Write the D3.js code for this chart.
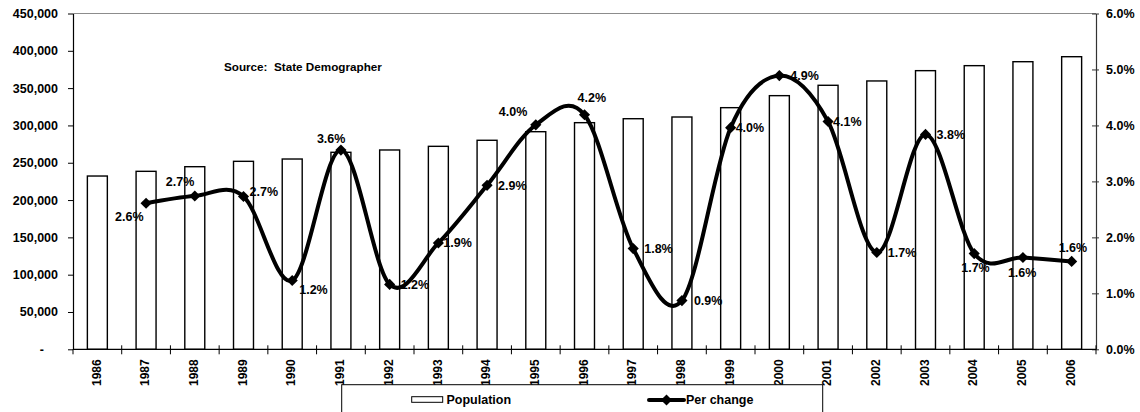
<!DOCTYPE html>
<html>
<head>
<meta charset="utf-8">
<script src="https://cdn.jsdelivr.net/npm/d3@7"></script>
<style>
  html, body { margin: 0; padding: 0; background: #fff; }
  svg { display: block; font-family: "Liberation Sans", Arial, sans-serif; font-weight: bold; }
</style>
</head>
<body>
<svg id="chart" width="1140" height="412"></svg>
<script>
// Population by year (bars, left axis)
const years = ["1986","1987","1988","1989","1990","1991","1992","1993","1994","1995","1996",
               "1997","1998","1999","2000","2001","2002","2003","2004","2005","2006"];
const population = [232200, 238500, 244700, 251900, 255000, 264000, 267100, 272000, 280100, 291600, 303700,
                    309000, 311300, 323800, 339900, 353800, 359600, 373400, 380100, 385400, 392100];

// Annual percent change (line, right axis); no value for the first year
const changeYears = years.slice(1);
const perChange = [2.61, 2.74, 2.73, 1.23, 3.56, 1.16, 1.90, 2.93, 4.01, 4.19,
                   1.80, 0.87, 3.96, 4.89, 4.07, 1.73, 3.84, 1.71, 1.64, 1.57];

// Axis tick values
const popTicks = [0, 50000, 100000, 150000, 200000, 250000, 300000, 350000, 400000, 450000];
const pctTicks = [0, 1, 2, 3, 4, 5, 6];

// Data-label placement around each marker: [left edge dx, centre dy]
const labelPlacement = [[-31, 13], [-29, -14], [6, -5], [7, 9], [-24, -11], [11, 0], [5, 0], [11, 0],
                        [-37, -13], [-7, -17], [11, 0], [12, 0], [5, 0], [11, 0], [5, 0], [11, 0],
                        [11, 0], [-13, 14], [-15, 15], [-13, -14]];

const svg = d3.select("#chart");
const plotLeft = 73, plotRight = 1096, plotTop = 13.5, plotBottom = 349.3;

const x = d3.scaleBand().domain(years).range([plotLeft, plotRight]).padding(0);
const bw = x.bandwidth();
const yPop = d3.scaleLinear().domain([0, 450000]).range([plotBottom, plotTop]);
const yPct = d3.scaleLinear().domain([0, 6]).range([plotBottom, plotTop]);

// Plot frame: grey top edge
svg.append("line").attr("x1", plotLeft).attr("x2", plotRight).attr("y1", plotTop).attr("y2", plotTop)
  .attr("stroke", "#8c8c8c").attr("stroke-width", 1);

// Bars
const barW = bw * 0.41;
svg.append("g").selectAll("rect").data(years).join("rect")
  .attr("x", (d) => x(d) + (bw - barW) / 2)
  .attr("y", (d, i) => yPop(population[i]))
  .attr("width", barW)
  .attr("height", (d, i) => plotBottom - yPop(population[i]))
  .attr("fill", "#fff").attr("stroke", "#000").attr("stroke-width", 1.4);

// Left axis
const fmtPop = (v) => v === 0 ? "-" : d3.format(",")(v);
const gL = svg.append("g").attr("transform", `translate(${plotLeft},0)`)
  .call(d3.axisLeft(yPop).tickValues(popTicks).tickFormat(fmtPop).tickSize(5).tickSizeOuter(0).tickPadding(10));
gL.select(".domain").attr("stroke", "#000").attr("stroke-width", 1.2);
gL.selectAll(".tick line").attr("stroke", "#000");
gL.selectAll("text").attr("font-size", "12.5px").attr("font-weight", "bold").attr("fill", "#000")
  .attr("font-family", "Liberation Sans, Arial, sans-serif");
gL.selectAll(".tick").filter((d) => d === 0).select("text").attr("x", -29);

// Right axis
const gR = svg.append("g").attr("transform", `translate(${plotRight},0)`)
  .call(d3.axisRight(yPct).tickValues(pctTicks).tickFormat((v) => v.toFixed(1) + "%").tickSize(3).tickSizeOuter(0).tickPadding(7));
gR.select(".domain").attr("stroke", "#333").attr("stroke-width", 1.2);
gR.selectAll(".tick line").attr("x1", -4).attr("x2", 3).attr("stroke", "#333");
gR.selectAll("text").attr("font-size", "12.5px").attr("font-weight", "bold").attr("fill", "#000")
  .attr("font-family", "Liberation Sans, Arial, sans-serif");

// Bottom axis: line, category boundary ticks, rotated year labels
svg.append("line").attr("x1", plotLeft).attr("x2", plotRight).attr("y1", plotBottom).attr("y2", plotBottom)
  .attr("stroke", "#000").attr("stroke-width", 1.2);
const boundaries = years.map((d) => x(d)).concat([plotRight]);
svg.append("g").selectAll("line").data(boundaries).join("line")
  .attr("x1", (d) => d).attr("x2", (d) => d)
  .attr("y1", (d, i) => (i === 0 ? plotBottom : plotBottom - 4)).attr("y2", plotBottom + 5)
  .attr("stroke", "#000").attr("stroke-width", 1);
svg.append("g").selectAll("text").data(years).join("text")
  .attr("transform", (d) => `translate(${x(d) + bw / 2 - 1},${plotBottom + 10}) rotate(-90)`)
  .attr("text-anchor", "end").attr("dy", "0.35em")
  .attr("font-size", "12px").attr("fill", "#000")
  .text((d) => d);

// Smoothed percent-change line
const pts = changeYears.map((d, i) => [x(d) + bw / 2, yPct(perChange[i])]);
svg.append("path").datum(pts)
  .attr("d", d3.line().curve(d3.curveCardinal.tension(0)))
  .attr("fill", "none").attr("stroke", "#000").attr("stroke-width", 4)
  .attr("stroke-linejoin", "round");

// Diamond markers
const diamond = d3.symbol(d3.symbolSquare, 62);
svg.append("g").selectAll("path").data(pts).join("path")
  .attr("transform", (p) => `translate(${p[0]},${p[1]}) rotate(45)`)
  .attr("d", diamond).attr("fill", "#000");

// Data labels
svg.append("g").selectAll("text").data(pts).join("text")
  .attr("x", (p, i) => p[0] + labelPlacement[i][0])
  .attr("y", (p, i) => p[1] + labelPlacement[i][1])
  .attr("dy", "0.35em").attr("font-size", "12.5px").attr("fill", "#000")
  .text((p, i) => perChange[i].toFixed(1) + "%");

// Source note
svg.append("text").attr("x", 224).attr("y", 67).attr("dy", "0.35em")
  .attr("font-size", "11.7px").style("white-space", "pre").attr("fill", "#000")
  .text("Source:  State Demographer");

// Legend
const lg = svg.append("g");
lg.append("rect").attr("x", 341.7).attr("y", 384.7).attr("width", 481).attr("height", 40)
  .attr("fill", "#fff").attr("stroke", "#000").attr("stroke-width", 1);
lg.append("rect").attr("x", 411.7).attr("y", 396.7).attr("width", 31).attr("height", 5.6)
  .attr("fill", "#fff").attr("stroke", "#000").attr("stroke-width", 1);
lg.append("text").attr("x", 446.5).attr("y", 400).attr("dy", "0.35em")
  .attr("font-size", "12.5px").attr("fill", "#000").text("Population");
lg.append("line").attr("x1", 649).attr("x2", 684).attr("y1", 400).attr("y2", 400)
  .attr("stroke", "#000").attr("stroke-width", 4).attr("stroke-linecap", "round");
lg.append("path").attr("transform", "translate(666.5,400) rotate(45)").attr("d", diamond).attr("fill", "#000");
lg.append("text").attr("x", 686).attr("y", 400).attr("dy", "0.35em")
  .attr("font-size", "12.5px").attr("fill", "#000").text("Per change");
</script>
</body>
</html>
